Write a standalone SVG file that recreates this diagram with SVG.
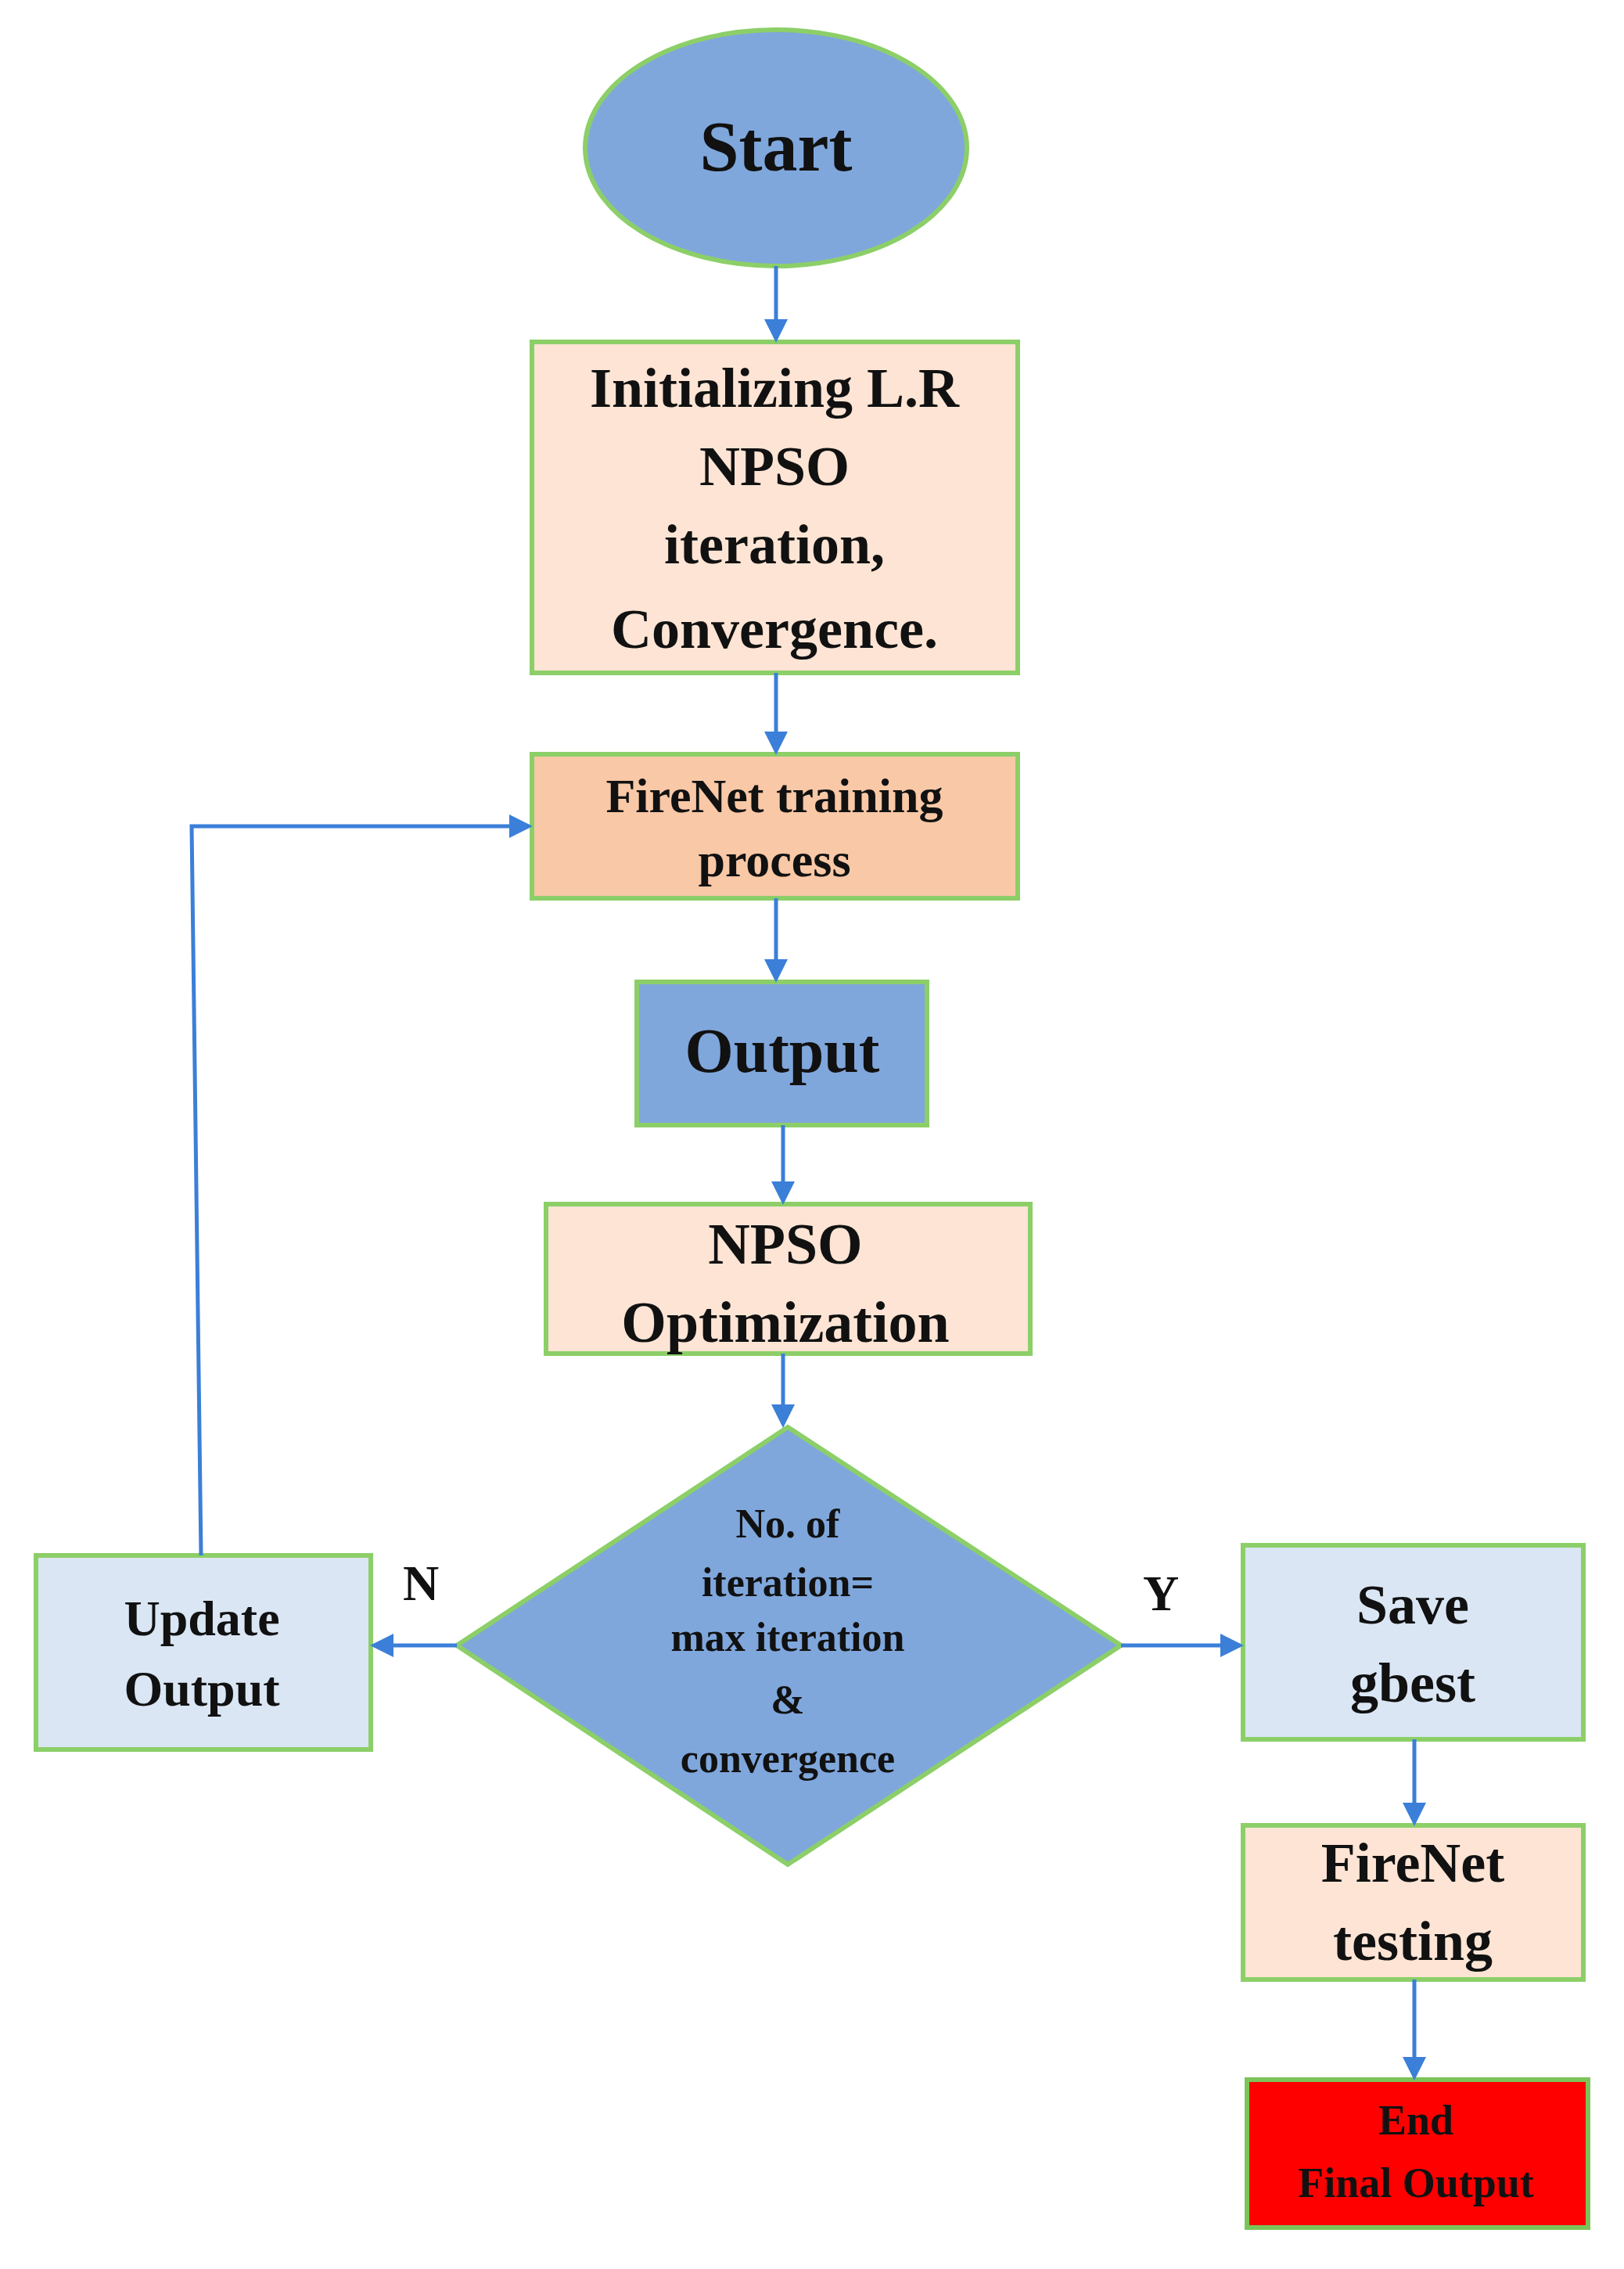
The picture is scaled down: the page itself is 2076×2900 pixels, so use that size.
<svg xmlns="http://www.w3.org/2000/svg" width="2076" height="2900" viewBox="0 0 2076 2900">
<style>
.n{stroke:#8ccf68;stroke-width:6}
.t{font-family:"Liberation Serif",serif;font-weight:bold;fill:#111;text-anchor:middle}
.c{stroke:#3b7fd8;stroke-width:5;fill:none;marker-end:url(#a)}
</style>
<defs><marker id="a" markerWidth="6" markerHeight="6" refX="5" refY="3" orient="auto"><path d="M0,0L6,3L0,6z" fill="#3b7fd8"/></marker></defs>
<rect width="2076" height="2900" fill="#fff"/>
<g id="start"><ellipse class="n" cx="992" cy="189" rx="244" ry="151" fill="#7fa7dc"/><text class="t" x="992" y="218" font-size="90">Start</text></g>
<g id="init"><rect class="n" x="680" y="437" width="621" height="423" fill="#fde4d4"/>
<text class="t" font-size="72"><tspan x="990" y="520">Initializing L.R</tspan><tspan x="990" y="620">NPSO</tspan><tspan x="990" y="720">iteration,</tspan><tspan x="990" y="828">Convergence.</tspan></text></g>
<g id="train"><rect class="n" x="680" y="964" width="621" height="184" fill="#f9c8a6"/>
<text class="t" font-size="62"><tspan x="990" y="1038">FireNet training</tspan><tspan x="990" y="1120">process</tspan></text></g>
<g id="output"><rect class="n" x="814" y="1255" width="371" height="183" fill="#7fa7dc"/><text class="t" x="1000" y="1370" font-size="80">Output</text></g>
<g id="npso"><rect class="n" x="698" y="1539" width="619" height="191" fill="#fde4d4"/>
<text class="t" font-size="74"><tspan x="1004" y="1615">NPSO</tspan><tspan x="1004" y="1715">Optimization</tspan></text></g>
<g id="dec"><polygon class="n" points="1007,1824 1433,2103 1007,2383 584,2103" fill="#7fa7dc"/>
<text class="t" font-size="52"><tspan x="1007" y="1965">No. of</tspan><tspan x="1007" y="2040">iteration=</tspan><tspan x="1007" y="2110">max iteration</tspan><tspan x="1007" y="2190">&amp;</tspan><tspan x="1007" y="2265">convergence</tspan></text></g>
<g id="update"><rect class="n" x="46" y="1988" width="428" height="248" fill="#dae6f4"/>
<text class="t" font-size="64"><tspan x="258" y="2090">Update</tspan><tspan x="258" y="2180">Output</tspan></text></g>
<g id="save"><rect class="n" x="1589" y="1975" width="435" height="248" fill="#dae6f4"/>
<text class="t" font-size="72"><tspan x="1806" y="2075">Save</tspan><tspan x="1806" y="2175">gbest</tspan></text></g>
<g id="test"><rect class="n" x="1589" y="2333" width="435" height="197" fill="#fde4d4"/>
<text class="t" font-size="72"><tspan x="1806" y="2405">FireNet</tspan><tspan x="1806" y="2505">testing</tspan></text></g>
<g id="end"><rect x="1594" y="2658" width="436" height="189" fill="#fe0000" stroke="#7cc45a" stroke-width="6"/>
<text class="t" font-size="54"><tspan x="1810" y="2728">End</tspan><tspan x="1810" y="2808">Final Output</tspan></text></g>
<g id="connectors">
<line class="c" x1="992" y1="340" x2="992" y2="433"/>
<line class="c" x1="992" y1="860" x2="992" y2="960"/>
<line class="c" x1="992" y1="1148" x2="992" y2="1251"/>
<line class="c" x1="1001" y1="1438" x2="1001" y2="1535"/>
<line class="c" x1="1001" y1="1730" x2="1001" y2="1820"/>
<line class="c" x1="584" y1="2103" x2="478" y2="2103"/>
<line class="c" x1="1433" y1="2103" x2="1585" y2="2103"/>
<polyline class="c" points="257,1988 245,1056 676,1056"/>
<line class="c" x1="1808" y1="2223" x2="1808" y2="2329"/>
<line class="c" x1="1808" y1="2530" x2="1808" y2="2654"/>
<text class="t" x="538" y="2045" font-size="64">N</text>
<text class="t" x="1484" y="2058" font-size="64">Y</text>
</g>
</svg>
